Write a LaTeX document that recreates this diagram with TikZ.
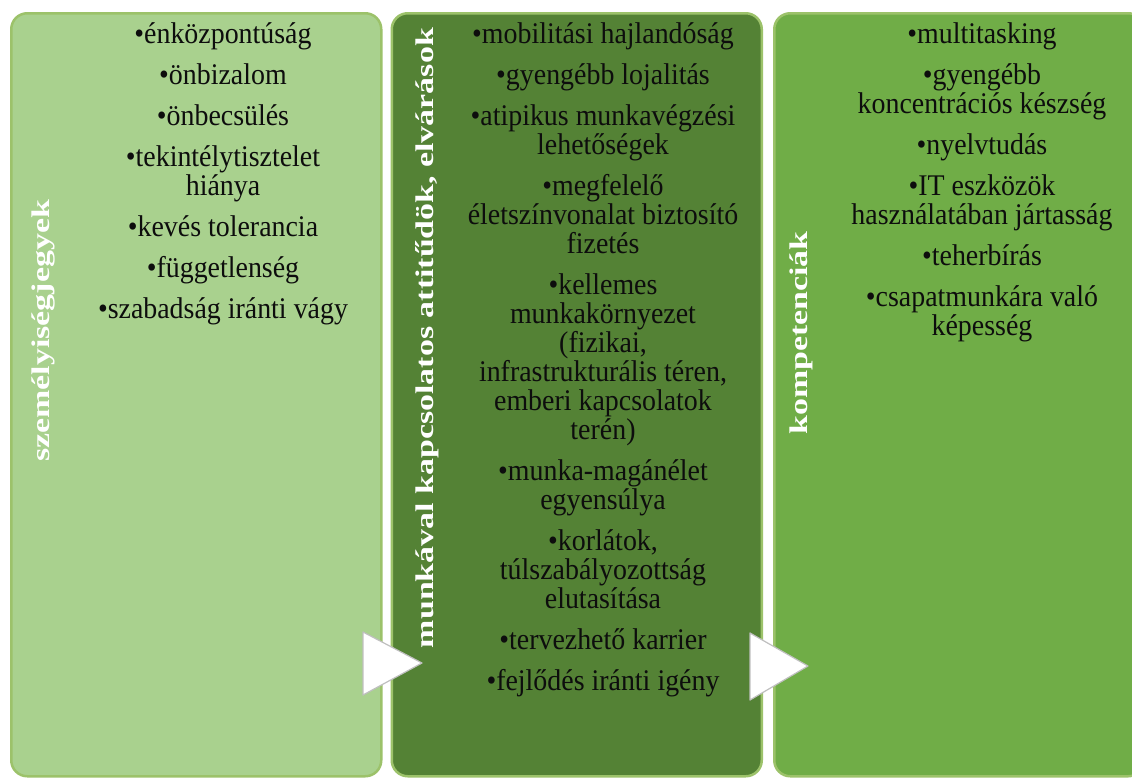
\documentclass[tikz,border=0pt]{standalone}
\usepackage{fontspec}
\setmainfont{Liberation Serif}[FakeStretch=0.93]
\newfontfamily\titlefont{Liberation Serif}[FakeStretch=1.33]
\usetikzlibrary{positioning}
\definecolor{clrpersonal}{HTML}{A9D18E}
\definecolor{clrattitude}{HTML}{548235}
\definecolor{clrskill}{HTML}{70AD47}
\definecolor{clrborder}{HTML}{9CC26A}
\definecolor{clrarrow}{HTML}{BFBFBF}
\definecolor{clrtext}{HTML}{0D0D0D}
\newcommand\tightlines{\lineskiplimit=-50pt\spaceskip=7pt\relax}

\begin{document}
\begin{tikzpicture}[
    x=1pt, y=-1pt,
    panel/.style={draw=clrborder, line width=2.5pt, rounded corners=16pt,
                  minimum width=370pt, minimum height=763pt, inner sep=0pt},
    title/.style={rotate=90, text=white, inner sep=0pt,
                  font=\titlefont\bfseries\fontsize{25.5}{30}\selectfont},
    items/.style={anchor=base, text width=320pt, align=center, inner sep=0pt,
                  text=clrtext, font=\fontsize{30}{29}\selectfont\tightlines,
                  execute at begin node=\tightlines},
    flowtri/.style={draw=clrarrow, fill=white, line width=1.2pt, line join=round},
]
\useasboundingbox (0,0) rectangle (1132,779);
% panels
\node[panel, fill=clrpersonal, anchor=north west] (p1) at (10,12) {};
\node[panel, fill=clrattitude, right=8pt of p1] (p2) {};
\node[panel, fill=clrskill, right=10pt of p2] (p3) {};
% titles
\node[title] (t1) at (43,331) {személyiségjegyek};
\node[title] (t2) at (427,338) {munkával kapcsolatos attitűdök, elvárások};
\node[title] (t3) at (801,333) {kompetenciák};
% lists
\node[items] (l1) at (223,43) {•énközpontúság\\[12pt]
  •önbizalom\\[12pt]
  •önbecsülés\\[12pt]
  •tekintélytisztelet\\ hiánya\\[12pt]
  •kevés tolerancia\\[12pt]
  •függetlenség\\[12pt]
  •szabadság iránti vágy};
\node[items] (l2) at (603,43) {•mobilitási hajlandóság\\[12pt]
  •gyengébb lojalitás\\[12pt]
  •atipikus munkavégzési\\ lehetőségek\\[12pt]
  •megfelelő\\ életszínvonalat biztosító\\ fizetés\\[12pt]
  •kellemes\\ munkakörnyezet\\ (fizikai,\\ infrastrukturális téren,\\ emberi kapcsolatok\\ terén)\\[12pt]
  •munka-magánélet\\ egyensúlya\\[12pt]
  •korlátok,\\ túlszabályozottság\\ elutasítása\\[12pt]
  •tervezhető karrier\\[12pt]
  •fejlődés iránti igény};
\node[items] (l3) at (982,43) {•multitasking\\[12pt]
  •gyengébb\\ koncentrációs készség\\[12pt]
  •nyelvtudás\\[12pt]
  •IT eszközök\\ használatában jártasság\\[12pt]
  •teherbírás\\[12pt]
  •csapatmunkára való\\ képesség};
% arrows between panels
\draw[flowtri] (363,632) -- (422,663) -- (363,695) -- cycle;
\draw[flowtri] (750,633) -- (808,666) -- (750,700) -- cycle;
\end{tikzpicture}
\end{document}
